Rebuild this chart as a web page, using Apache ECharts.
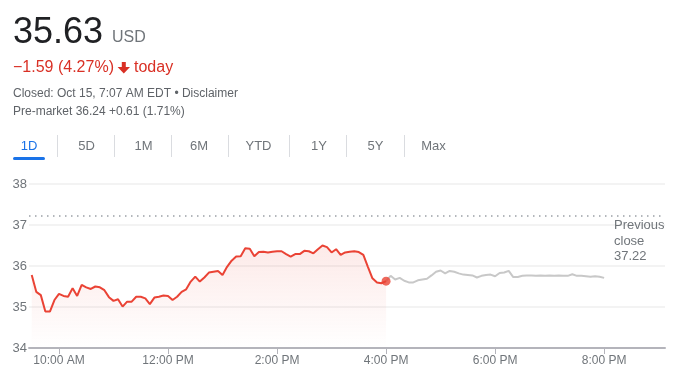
<!DOCTYPE html>
<html>
<head>
<meta charset="utf-8">
<script src="https://cdn.jsdelivr.net/npm/echarts@6/dist/echarts.min.js"></script>
<style>
  html, body { margin: 0; padding: 0; background: #fff; }
  #main { width: 690px; height: 377px; }
</style>
</head>
<body>
<div id="main"></div>
<script>
// 交易时段：9:30 开始，每 5 分钟一个点（分钟数从午夜算）
var sessionStart = 570;
var step = 5;
var prevClose = 37.22;
var tickMinutes = [600, 720, 840, 960, 1080, 1200];
var yTicks = [34, 35, 36, 37, 38];

// 盘中价格 9:30 - 4:00 PM
var regularPrices = [
  35.78, 35.37, 35.29, 34.89, 34.89, 35.17, 35.32, 35.27, 35.25, 35.46,
  35.27, 35.54, 35.48, 35.44, 35.50, 35.48, 35.41, 35.24, 35.15, 35.19,
  35.01, 35.13, 35.13, 35.25, 35.25, 35.21, 35.07, 35.23, 35.25, 35.28,
  35.27, 35.17, 35.25, 35.37, 35.43, 35.62, 35.74, 35.62, 35.72, 35.84,
  35.86, 35.88, 35.78, 35.98, 36.13, 36.23, 36.24, 36.43, 36.42, 36.24,
  36.34, 36.35, 36.33, 36.35, 36.36, 36.36, 36.29, 36.23, 36.29, 36.29,
  36.37, 36.36, 36.31, 36.41, 36.50, 36.46, 36.33, 36.41, 36.27, 36.33,
  36.35, 36.36, 36.34, 36.27, 35.98, 35.70, 35.60, 35.58, 35.63
];
// 盘后价格 4:05 PM - 8:00 PM
var afterPrices = [
  35.76, 35.67, 35.71, 35.64, 35.60, 35.60, 35.65, 35.67, 35.69, 35.77,
  35.86, 35.89, 35.82, 35.88, 35.86, 35.82, 35.79, 35.78, 35.77, 35.72,
  35.76, 35.78, 35.79, 35.75, 35.83, 35.84, 35.88, 35.73, 35.73, 35.76,
  35.77, 35.77, 35.76, 35.77, 35.76, 35.77, 35.76, 35.77, 35.76, 35.76,
  35.80, 35.76, 35.76, 35.75, 35.74, 35.75, 35.74, 35.71
];
var tabs = ["1D", "5D", "1M", "6M", "YTD", "1Y", "5Y", "Max"];

var FONT = "'Liberation Sans', Arial, sans-serif";
var RED = "#ea4335";
var TEXT_RED = "#d93025";
var GREY = "#70757a";

function fmtTime(m) {
  var h = Math.floor(m / 60), mm = m % 60;
  var ap = h >= 12 ? "PM" : "AM";
  var hh = h % 12 === 0 ? 12 : h % 12;
  return hh + ":" + (mm < 10 ? "0" + mm : mm) + " " + ap;
}

var regularData = [];
regularPrices.forEach(function (p, i) {
  regularData.push([sessionStart + i * step, p]);
});
var lastPoint = regularData[regularData.length - 1];
var afterData = [lastPoint];
afterPrices.forEach(function (p, i) {
  afterData.push([lastPoint[0] + (i + 1) * step, p]);
});

// 顶部标题、按钮
var tabCenters = [29, 86.5, 143.5, 199, 258.5, 319, 375.5, 433.5];
var sepX = [57.5, 114.5, 171.5, 228.5, 289.5, 346.5, 404.5];
var graphics = [
  { type: "text", left: 13, top: 15, style: { text: "35.63", font: "36px " + FONT, fill: "#202124" } },
  { type: "text", left: 112, top: 30, style: { text: "USD", font: "16px " + FONT, fill: GREY } },
  { type: "text", left: 13, top: 60, style: { text: "\u22121.59 (4.27%)", font: "16px " + FONT, fill: TEXT_RED } },
  {
    type: "polygon",
    shape: { points: [[121.8, 62], [125.8, 62], [125.8, 67], [130, 67], [123.8, 73.5], [117.6, 67], [121.8, 67]] },
    style: { fill: TEXT_RED }
  },
  { type: "text", left: 134, top: 60, style: { text: "today", font: "16px " + FONT, fill: TEXT_RED } },
  { type: "text", left: 13, top: 88, style: { text: "Closed: Oct 15, 7:07 AM EDT \u2022 Disclaimer", font: "12px " + FONT, fill: "#5f6368" } },
  { type: "text", left: 13, top: 106, style: { text: "Pre-market 36.24 +0.61 (1.71%)", font: "12px " + FONT, fill: "#5f6368" } },
  { type: "rect", shape: { x: 13, y: 157, width: 32, height: 3, r: 1.5 }, style: { fill: "#1a73e8" } }
];
tabs.forEach(function (t, i) {
  graphics.push({
    type: "text",
    x: tabCenters[i], y: 146.5,
    style: { text: t, font: "13px " + FONT, fill: i === 0 ? "#1a73e8" : GREY, align: "center", verticalAlign: "middle" }
  });
});
sepX.forEach(function (x) {
  graphics.push({ type: "line", shape: { x1: x, y1: 135, x2: x, y2: 157 }, style: { stroke: "#dadce0", lineWidth: 1 } });
});

var myChart = echarts.init(document.getElementById("main"));
var option = {
  animation: false,
  grid: { left: 29, right: 25, top: 184, bottom: 29 },
  graphic: graphics,
  xAxis: {
    type: "value",
    min: 567,
    max: 1267,
    splitLine: { show: false },
    axisLine: { show: true, lineStyle: { color: "#b4b4bb", width: 2 } },
    axisTick: { show: true, customValues: tickMinutes, length: 6, lineStyle: { color: "#b4b4bb", width: 1 } },
    axisLabel: {
      customValues: tickMinutes,
      margin: 7,
      fontSize: 12,
      fontFamily: FONT,
      color: GREY,
      formatter: function (v) { return fmtTime(v); }
    }
  },
  yAxis: {
    type: "value",
    min: yTicks[0],
    max: yTicks[yTicks.length - 1],
    interval: 1,
    axisLine: { show: false },
    axisTick: { show: false },
    splitLine: { lineStyle: { color: "#f3f3f3", width: 2 } },
    axisLabel: { margin: 2, fontSize: 13, fontFamily: FONT, color: GREY }
  },
  series: [
    {
      type: "line",
      data: afterData,
      showSymbol: false,
      lineStyle: { color: "#c8c8c8", width: 2 },
      z: 2
    },
    {
      type: "line",
      data: regularData,
      showSymbol: false,
      lineStyle: { color: RED, width: 2 },
      areaStyle: {
        color: {
          type: "linear", x: 0, y: 0, x2: 0, y2: 1,
          colorStops: [
            { offset: 0, color: "rgba(234,67,53,0.16)" },
            { offset: 1, color: "rgba(234,67,53,0)" }
          ]
        }
      },
      z: 3,
      markLine: {
        silent: true,
        symbol: "none",
        data: [{ yAxis: prevClose }],
        lineStyle: { color: "#9aa0a6", type: [1.5, 4.5], width: 1.5 },
        label: {
          position: "insideEndBottom",
          distance: [1, 2],
          formatter: "{a|Previous}\n{a|close}\n{a|" + prevClose + "}",
          rich: { a: { width: 50, align: "left", fontSize: 13, lineHeight: 15.5, fontFamily: FONT, color: GREY } }
        }
      }
    },
    {
      type: "scatter",
      data: [lastPoint],
      symbolSize: 9,
      itemStyle: { color: RED },
      z: 4
    }
  ]
};
myChart.setOption(option);
</script>
</body>
</html>
